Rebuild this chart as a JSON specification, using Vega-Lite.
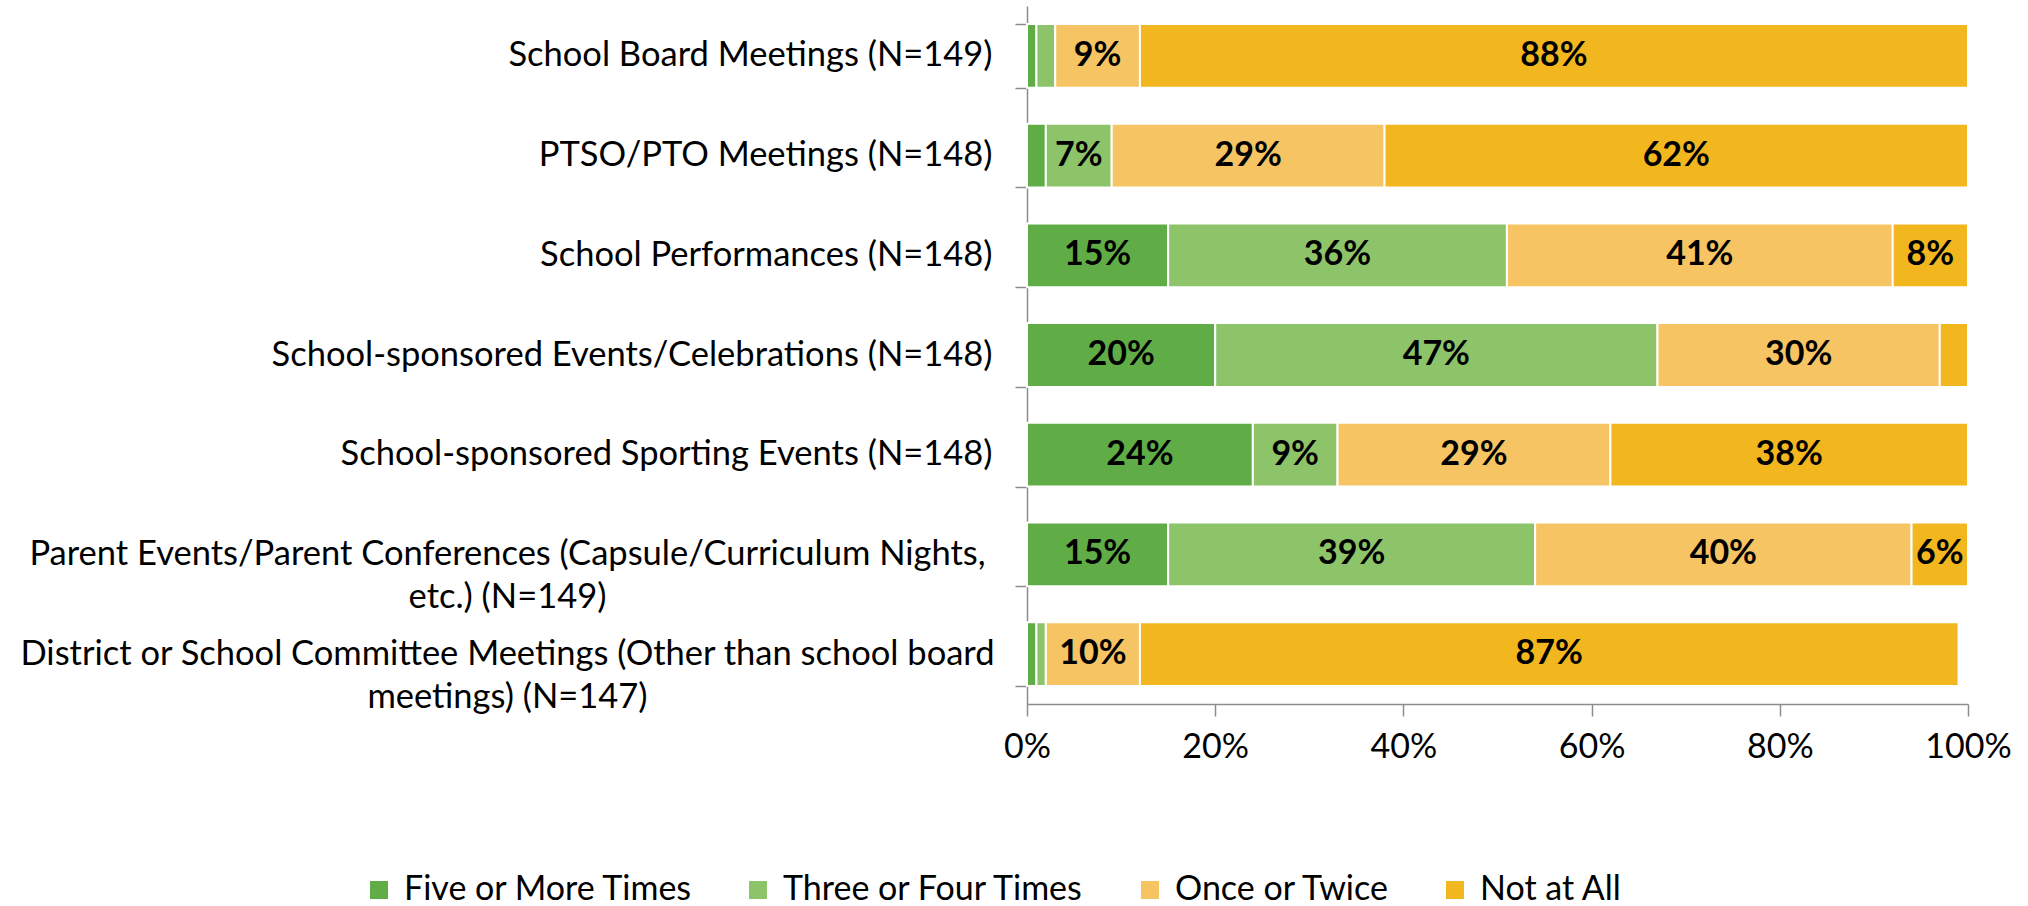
{
  "$schema": "https://vega.github.io/schema/vega-lite/v6.json",
  "autosize": "none",
  "width": 941,
  "height": 698,
  "padding": {"left": 1027, "top": 6, "right": 60, "bottom": 202},
  "background": "white",
  "config": {"view": {"stroke": null}, "font": "Lato"},
  "data": {"values": [
    {"cat": "School Board Meetings (N=149)", "resp": "Five or More Times", "k": 1, "v": 0.01},
    {"cat": "School Board Meetings (N=149)", "resp": "Three or Four Times", "k": 2, "v": 0.02},
    {"cat": "School Board Meetings (N=149)", "resp": "Once or Twice", "k": 3, "v": 0.09},
    {"cat": "School Board Meetings (N=149)", "resp": "Not at All", "k": 4, "v": 0.88},
    {"cat": "PTSO/PTO Meetings (N=148)", "resp": "Five or More Times", "k": 1, "v": 0.02},
    {"cat": "PTSO/PTO Meetings (N=148)", "resp": "Three or Four Times", "k": 2, "v": 0.07},
    {"cat": "PTSO/PTO Meetings (N=148)", "resp": "Once or Twice", "k": 3, "v": 0.29},
    {"cat": "PTSO/PTO Meetings (N=148)", "resp": "Not at All", "k": 4, "v": 0.62},
    {"cat": "School Performances (N=148)", "resp": "Five or More Times", "k": 1, "v": 0.15},
    {"cat": "School Performances (N=148)", "resp": "Three or Four Times", "k": 2, "v": 0.36},
    {"cat": "School Performances (N=148)", "resp": "Once or Twice", "k": 3, "v": 0.41},
    {"cat": "School Performances (N=148)", "resp": "Not at All", "k": 4, "v": 0.08},
    {"cat": "School-sponsored Events/Celebrations (N=148)", "resp": "Five or More Times", "k": 1, "v": 0.20},
    {"cat": "School-sponsored Events/Celebrations (N=148)", "resp": "Three or Four Times", "k": 2, "v": 0.47},
    {"cat": "School-sponsored Events/Celebrations (N=148)", "resp": "Once or Twice", "k": 3, "v": 0.30},
    {"cat": "School-sponsored Events/Celebrations (N=148)", "resp": "Not at All", "k": 4, "v": 0.03},
    {"cat": "School-sponsored Sporting Events (N=148)", "resp": "Five or More Times", "k": 1, "v": 0.24},
    {"cat": "School-sponsored Sporting Events (N=148)", "resp": "Three or Four Times", "k": 2, "v": 0.09},
    {"cat": "School-sponsored Sporting Events (N=148)", "resp": "Once or Twice", "k": 3, "v": 0.29},
    {"cat": "School-sponsored Sporting Events (N=148)", "resp": "Not at All", "k": 4, "v": 0.38},
    {"cat": "Parent Events/Parent Conferences (Capsule/Curriculum Nights,|etc.) (N=149)", "resp": "Five or More Times", "k": 1, "v": 0.15},
    {"cat": "Parent Events/Parent Conferences (Capsule/Curriculum Nights,|etc.) (N=149)", "resp": "Three or Four Times", "k": 2, "v": 0.39},
    {"cat": "Parent Events/Parent Conferences (Capsule/Curriculum Nights,|etc.) (N=149)", "resp": "Once or Twice", "k": 3, "v": 0.40},
    {"cat": "Parent Events/Parent Conferences (Capsule/Curriculum Nights,|etc.) (N=149)", "resp": "Not at All", "k": 4, "v": 0.06},
    {"cat": "District or School Committee Meetings (Other than school board|meetings) (N=147)", "resp": "Five or More Times", "k": 1, "v": 0.01},
    {"cat": "District or School Committee Meetings (Other than school board|meetings) (N=147)", "resp": "Three or Four Times", "k": 2, "v": 0.01},
    {"cat": "District or School Committee Meetings (Other than school board|meetings) (N=147)", "resp": "Once or Twice", "k": 3, "v": 0.10},
    {"cat": "District or School Committee Meetings (Other than school board|meetings) (N=147)", "resp": "Not at All", "k": 4, "v": 0.87}
  ]},
  "encoding": {
    "y": {
      "field": "cat", "type": "nominal", "sort": null,
      "scale": {"paddingInner": 0.36, "paddingOuter": 0.18},
      "axis": {
        "title": null,
        "tickBand": "extent",
        "tickSize": 12,
        "tickColor": "#8c8c8c",
        "tickWidth": 1.5,
        "domainColor": "#8c8c8c",
        "domainWidth": 1.5,
        "labelFont": "Lato",
        "labelFontSize": 34.5,
        "labelColor": "#000000",
        "labelLimit": 1200,
        "labelLineHeight": 43,
        "labelExpr": "isString(datum.value) ? split(datum.value, '|') : ''",
        "labelAlign": {"condition": {"test": "isString(datum.value) && indexof(datum.value, '|') >= 0", "value": "center"}, "value": "right"},
        "labelPadding": {"condition": {"test": "isString(datum.value) && indexof(datum.value, '|') >= 0", "value": 508}, "value": 23}
      }
    }
  },
  "layer": [
    {
      "mark": {"type": "bar", "stroke": "white", "strokeWidth": 2},
      "encoding": {
        "x": {
          "field": "v", "type": "quantitative", "stack": "zero",
          "scale": {"domain": [0, 1], "nice": false},
          "axis": {
            "title": null,
            "values": [0, 0.2, 0.4, 0.6, 0.8, 1],
            "format": ".0%",
            "grid": false,
            "tickSize": 12,
            "tickColor": "#8c8c8c",
            "tickWidth": 1.5,
            "domainColor": "#8c8c8c",
            "domainWidth": 1.5,
            "labelFont": "Lato",
            "labelFontSize": 34,
            "labelColor": "#000000",
            "labelPadding": 14,
            "labelFlush": false
          }
        },
        "order": {"field": "k", "type": "quantitative"},
        "color": {
          "field": "resp", "type": "nominal",
          "scale": {
            "domain": ["Five or More Times", "Three or Four Times", "Once or Twice", "Not at All"],
            "range": ["#60AD47", "#8DC46A", "#F6C463", "#F2B71E"]
          },
          "legend": {
            "title": null,
            "orient": "none",
            "direction": "horizontal",
            "legendX": -665,
            "legendY": 867,
            "symbolType": "square",
            "symbolSize": 324,
            "symbolStrokeWidth": 0,
            "labelFont": "Lato",
            "labelFontSize": 34,
            "labelColor": "#000000",
            "labelOffset": 8,
            "columnPadding": 48,
            "labelLimit": 600
          }
        }
      }
    },
    {
      "transform": [
        {"stack": "v", "groupby": ["cat"], "sort": [{"field": "k", "order": "ascending"}], "as": ["x0", "x1"]},
        {"calculate": "(datum.x0 + datum.x1) / 2", "as": "xm"},
        {"filter": "datum.v >= 0.05"}
      ],
      "mark": {"type": "text", "font": "Lato", "fontSize": 34, "fontWeight": "bold", "color": "#000000", "align": "center", "baseline": "middle"},
      "encoding": {
        "x": {"field": "xm", "type": "quantitative"},
        "text": {"field": "v", "type": "quantitative", "format": ".0%"}
      }
    }
  ]
}
